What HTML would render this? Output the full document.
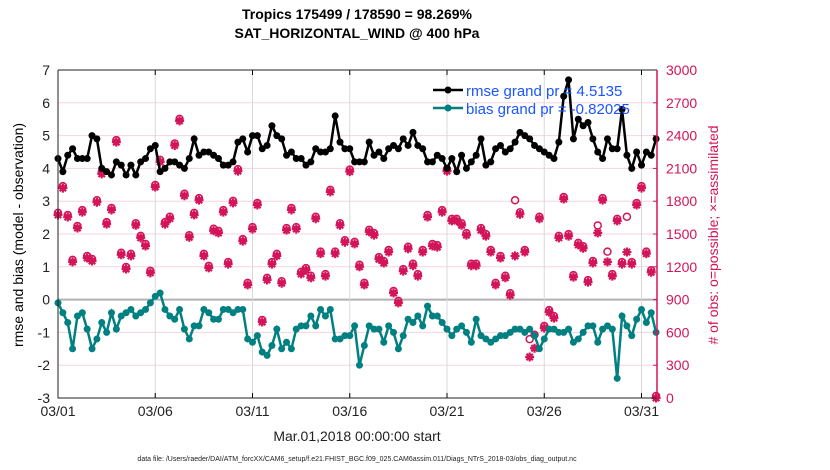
<!DOCTYPE html>
<html><head><meta charset="utf-8"><style>
body{margin:0;background:#fff;}
svg{display:block;font-family:"Liberation Sans",Arial,sans-serif;}
</style></head><body>
<svg id="chart" width="830" height="470">
<text x="357" y="19" text-anchor="middle" font-size="14" font-weight="bold" fill="#000">Tropics 175499 / 178590 = 98.269%</text>
<text x="357" y="38" text-anchor="middle" font-size="14" font-weight="bold" fill="#000">SAT_HORIZONTAL_WIND @ 400 hPa</text>
<g id="grid"></g>
<g id="counts"></g>
<g id="rmse"></g>
<g id="bias"></g>
<g id="axes"></g>
<g>
<line x1="433" y1="90" x2="463" y2="90" stroke="#000" stroke-width="2.5"/>
<circle cx="448" cy="90" r="3.5" fill="#000"/>
<text x="466" y="96" font-size="15" fill="#1a55ff">rmse grand pr = 4.5135</text>
<line x1="433" y1="108" x2="463" y2="108" stroke="#008080" stroke-width="2.5"/>
<circle cx="448" cy="108" r="3.5" fill="#008080"/>
<text x="466" y="114" font-size="15" fill="#1a55ff">bias grand pr = -0.82025</text>
</g>
<text transform="translate(23,235) rotate(-90)" text-anchor="middle" font-size="14" fill="#000">rmse and bias (model - observation)</text>
<text transform="translate(718,235) rotate(-90)" text-anchor="middle" font-size="14" fill="#d4145a"># of obs: o=possible; ×=assimilated</text>
<text x="357" y="441" text-anchor="middle" font-size="14" fill="#222">Mar.01,2018 00:00:00 start</text>
<text x="357" y="461" text-anchor="middle" font-size="7" fill="#222">data file: /Users/raeder/DAI/ATM_forcXX/CAM6_setup/f.e21.FHIST_BGC.f09_025.CAM6assim.011/Diags_NTrS_2018-03/obs_diag_output.nc</text>
</svg>
<script>
const rmse=[4.3,3.9,4.4,4.6,4.3,4.3,4.3,5.0,4.9,4.0,3.9,3.8,4.2,4.1,3.8,4.1,3.8,4.2,4.3,4.6,4.7,3.9,4.0,4.2,4.2,4.1,4.0,4.3,4.9,4.4,
4.5,4.5,4.4,4.3,4.1,4.1,4.2,4.8,4.9,4.5,5.0,5.0,4.6,4.7,5.3,5.0,4.9,4.4,4.5,4.3,4.3,4.1,4.2,4.6,4.5,4.5,4.6,5.6,4.8,4.6,4.6,4.2,
4.2,4.2,4.8,4.4,4.5,4.3,4.6,4.7,4.6,4.9,4.7,5.1,4.7,4.6,4.2,4.2,4.4,4.3,4.0,4.3,3.9,4.4,4.0,4.2,4.4,4.9,4.1,4.2,4.6,4.7,4.5,4.6,
4.8,5.1,5.0,4.9,4.7,4.6,4.5,4.4,4.3,4.8,6.2,6.7,4.9,5.5,5.3,5.4,4.9,4.5,4.3,4.9,4.6,4.6,5.8,4.4,4.0,4.5,4.1,4.5,4.4,4.9];
const bias=[-0.1,-0.4,-0.7,-1.5,-0.5,-0.4,-0.9,-1.5,-1.2,-0.7,-1.0,-0.4,-0.9,-0.5,-0.4,-0.3,-0.5,-0.4,-0.3,-0.1,0.1,0.2,-0.3,-0.5,-0.6,-0.3,-0.9,-1.2,-0.8,-0.8,
-0.3,-0.4,-0.6,-0.6,-0.3,-0.3,-0.4,-0.3,-0.3,-1.2,-1.3,-1.1,-1.6,-1.7,-1.4,-0.9,-1.5,-1.3,-1.5,-0.9,-0.8,-0.8,-0.5,-0.8,-0.3,-0.5,-0.3,-1.2,-1.2,-1.1,-1.1,-0.8,
-2.0,-1.4,-0.8,-0.9,-0.9,-1.3,-0.8,-1.0,-1.5,-1.1,-0.6,-0.7,-0.5,-0.8,-0.2,-0.5,-0.5,-0.7,-0.9,-1.1,-0.9,-0.8,-1.0,-1.3,-0.6,-1.1,-1.2,-1.3,-1.2,-1.1,-1.1,-1.0,
-0.9,-0.9,-1.0,-0.9,-1.1,-1.5,-1.2,-0.9,-0.9,-1.0,-1.0,-0.9,-1.3,-1.2,-1.0,-0.8,-0.8,-1.3,-0.9,-0.8,-0.9,-2.4,-0.5,-0.8,-1.1,-0.6,-0.3,-0.7,-0.4,-1.0];
const assimilated=[1675,1920,1655,1245,1555,1700,1280,1253,1790,2050,1590,1720,2340,1310,1180,1300,1580,1465,1390,1145,1930,2160,1590,1640,2310,2535,1850,1470,1675,1810,1300,1190,
1530,1510,1700,1225,1785,2075,1435,1035,1545,1765,695,1080,1225,1300,1050,1535,1720,1545,1135,1170,1100,1640,1320,1115,1885,1320,1580,1425,2070,1410,1200,
1035,1520,1490,1270,1235,1335,960,870,1160,1365,1210,1115,1335,1655,1390,1380,1700,2075,1620,1620,1580,1490,1210,1210,1535,1480,1335,1035,1280,1100,940,
1300,1680,1335,375,455,1640,640,785,730,1465,1820,1480,1105,1400,1370,1060,1235,1510,1810,1245,1115,1620,1225,1335,1225,1765,1920,1320,1150,0];
const possible=assimilated.slice();
possible[94]=1790;possible[97]=520;possible[98]=560;possible[111]=1560;possible[113]=1320;possible[117]=1640;
const xTicks=["03/01","03/06","03/11","03/16","03/21","03/26","03/31"];
const yTicksLeft=[7,6,5,4,3,2,1,0,-1,-2,-3];
const yTicksRight=[0,300,600,900,1200,1500,1800,2100,2400,2700,3000];

const NS="http://www.w3.org/2000/svg";
const X0=58,X1=657,Y0=70,Y1=398;
const pxPerDay=19.45;
const xDay=d=>X0+d*pxPerDay;
const xIdx=i=>xDay(i*0.25);
const yL=v=>Y0+(7-v)/10*(Y1-Y0);
const yR=c=>Y1-c/3000*(Y1-Y0);
function mk(tag,attrs,parent){const e=document.createElementNS(NS,tag);for(const k in attrs)e.setAttribute(k,attrs[k]);parent.appendChild(e);return e;}
const grid=document.getElementById('grid'),axes=document.getElementById('axes');
yTicksLeft.forEach(v=>{
  const l=mk('line',{x1:X0,x2:X1,y1:yL(v),y2:yL(v),stroke:v===0?'#b0b0b0':'#f6d3df','stroke-width':v===0?2:1},grid);
  
  
  const t=mk('text',{x:X0-8,y:yL(v)+5,'text-anchor':'end','font-size':14,fill:'#222'},axes);
  t.textContent=v;
  
  
});
yTicksRight.forEach(c=>{
  const t=mk('text',{x:X1+9,y:yR(c)+5,'font-size':14,fill:'#d4145a'},axes);
  t.textContent=c;
  
  
  mk('line',{x1:X1-4,x2:X1,y1:yR(c),y2:yR(c),stroke:'#d4145a'},axes);
});
xTicks.forEach((s,k)=>{
  const x=xDay(k*5);
  const l=mk('line',{x1:x,x2:x,y1:Y0,y2:Y1,stroke:'#d8d8d8'},grid);
  
  
  mk('line',{x1:x,x2:x,y1:Y1,y2:Y1-5,stroke:'#000'},axes);
  mk('line',{x1:x,x2:x,y1:Y0,y2:Y0+5,stroke:'#000'},axes);
  const t=mk('text',{x:x,y:416,'text-anchor':'middle','font-size':14,fill:'#222'},axes);
  t.textContent=s;
  
  
});
mk('path',{d:`M${X0},${Y0}H${X1}M${X0},${Y0}V${Y1}H${X1}`,stroke:'#222',fill:'none'},axes);
mk('line',{x1:X1,x2:X1,y1:Y0,y2:Y1,stroke:'#d4145a','stroke-width':1.5},axes);
const cg=document.getElementById('counts');
possible.forEach((c,i)=>{
  const x=xIdx(i),y=yR(c);
  const o=mk('circle',{cx:x,cy:y-2,r:3.5,fill:'none',stroke:'#d4145a','stroke-width':1.5},cg);
  
  
});
assimilated.forEach((c,i)=>{
  const x=xIdx(i),y=yR(c);const s=4.5;
  const p=mk('path',{d:`M${x-s},${y}H${x+s}M${x},${y-s}V${y+s}M${x-3.2},${y-3.2}L${x+3.2},${y+3.2}M${x-3.2},${y+3.2}L${x+3.2},${y-3.2}`,stroke:'#d4145a','stroke-width':2.2},cg);
  
  
});
function series(arr,gid,col){
  const g=document.getElementById(gid);
  const pl=mk('polyline',{points:arr.map((v,i)=>xIdx(i)+','+yL(v)).join(' '),fill:'none',stroke:col,'stroke-width':2.5},g);
  
  
  arr.forEach((v,i)=>{
    const c=mk('circle',{cx:xIdx(i),cy:yL(v),r:3.5,fill:col},g);
    
    
  });
}
series(rmse,'rmse','#000');
series(bias,'bias','#008080');
</script>
</body></html>
